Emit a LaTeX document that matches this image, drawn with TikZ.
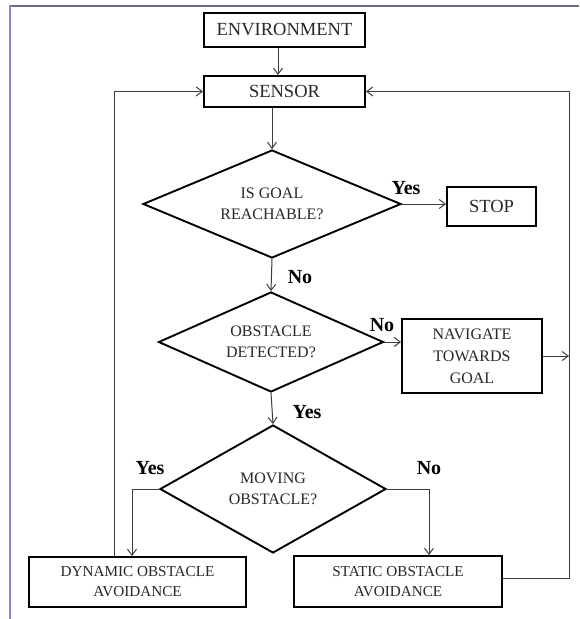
\documentclass[tikz,border=0pt]{standalone}
\usepackage{fontspec}
\setmainfont{Liberation Serif}
\usetikzlibrary{shapes.geometric,arrows.meta}
\definecolor{framepurple}{RGB}{150,125,200}
\definecolor{frametop}{RGB}{115,105,140}
\definecolor{linegray}{RGB}{60,60,60}
\definecolor{txt}{RGB}{40,40,40}
\begin{document}
\begin{tikzpicture}[x=1pt,y=-1pt,
 box/.style={draw=black,line width=1.9pt,text=txt,align=center,inner sep=0pt},
 dec/.style={diamond,draw=black,line width=1.9pt,text=txt,align=center,inner sep=0pt,shape aspect=2.4,font=\fontsize{16}{20.5}\selectfont},
 conn/.style={draw=linegray,line width=1pt},
 arr/.style={conn,-{Straight Barb[length=6pt,width=9pt,line width=1pt]}},
 lbl/.style={font=\fontsize{20}{22}\selectfont\bfseries,text=black,inner sep=0pt}]
\useasboundingbox (0,0) rectangle (579,619);
\fill[white] (0,0) rectangle (579,619);
\draw[frametop,line width=2pt] (9,6) -- (579,6);
\draw[framepurple,line width=2pt] (10,5) -- (10,619);

\node[box,minimum width=161pt,minimum height=34pt,font=\fontsize{18.5}{20}\selectfont] (env) at (284.5,30) {ENVIRONMENT};
\node[box,minimum width=161pt,minimum height=31pt,font=\fontsize{18.5}{20}\selectfont] (sensor) at (284.5,91.5) {SENSOR};
\node[dec,minimum width=258pt,minimum height=108pt] (d1) at (272,204) {IS GOAL\\REACHABLE?};
\node[box,minimum width=89pt,minimum height=39pt,font=\fontsize{18.5}{20}\selectfont] (stop) at (491.5,206.5) {STOP};
\node[dec,minimum width=225pt,minimum height=100pt] (d2) at (271,342) {OBSTACLE\\DETECTED?};
\node[box,minimum width=140pt,minimum height=74pt,font=\fontsize{16}{22}\selectfont] (nav) at (472,356) {NAVIGATE\\TOWARDS\\GOAL};
\node[dec,minimum width=226pt,minimum height=128pt] (d3) at (273,489) {MOVING\\OBSTACLE?};
\node[box,minimum width=217pt,minimum height=50pt,font=\fontsize{15.2}{20}\selectfont] (dyn) at (137.5,582) {DYNAMIC OBSTACLE\\AVOIDANCE};
\node[box,minimum width=208pt,minimum height=51pt,font=\fontsize{15.2}{20}\selectfont] (stat) at (398,581.5) {STATIC OBSTACLE\\AVOIDANCE};

\coordinate (loopL) at (114,0);
\coordinate (loopR) at (569,0);

\draw[arr] ([xshift=-6.5pt]env.south) -- ([xshift=-6.5pt]env.south |- sensor.north);
\draw[arr] (sensor.south -| d1.north) -- (d1.north);
\draw[arr] (d1.east) -- (d1.east -| stop.west);
\draw[arr] (d1.south) -- (d2.north);
\draw[arr] (d2.east) -- (d2.east -| nav.west);
\draw[arr] (d2.south) -- (d3.north);
\draw[arr] (d3.west) -| ([xshift=-5.5pt]dyn.north);
\draw[arr] (d3.east) -| ([xshift=31pt]stat.north);
\draw[arr] (dyn.north -| loopL) -- (loopL |- sensor.west) -- (sensor.west);
\draw[arr] ([yshift=3.5pt]stat.east) -| (loopR |- sensor.east) -- (sensor.east);
\draw[arr] (nav.east) -- (nav.east -| loopR);

\node[lbl] (y1) at (406,188) {Yes};
\node[lbl] (n1) at (300,277) {No};
\node[lbl] (n2) at (382,325) {No};
\node[lbl] (y2) at (307,412) {Yes};
\node[lbl] (y3) at (150,468) {Yes};
\node[lbl] (n3) at (429,468) {No};
\end{tikzpicture}
\end{document}
